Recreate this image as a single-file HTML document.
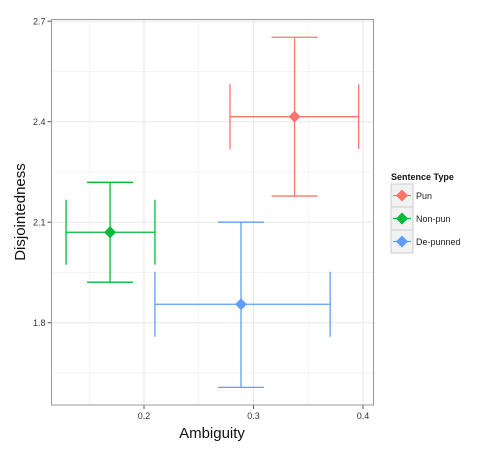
<!DOCTYPE html>
<html><head><meta charset="utf-8"><style>
body{margin:0;background:#fff;width:500px;height:450px;overflow:hidden}
svg text{font-family:"Liberation Sans",sans-serif}
</style></head><body>
<svg id="chart" width="500" height="450" xmlns="http://www.w3.org/2000/svg"></svg>
<script>
const categories = ["Pun","Non-pun","De-punned"];
const colors = ["#F8766D","#00BA38","#619CFF"];
const xMean = [0.3375, 0.169, 0.2886];
const xLow = [0.2785, 0.1288, 0.210];
const xHigh = [0.3960, 0.210, 0.370];
const yMean = [2.415, 2.070, 1.855];
const yLow = [2.178, 1.921, 1.607];
const yHigh = [2.652, 2.219, 2.100];
const xTicks = [0.2, 0.3, 0.4];
const xMinor = [0.15, 0.25, 0.35];
const yTicks = [1.8, 2.1, 2.4, 2.7];
const yMinor = [1.65, 1.95, 2.25, 2.55];

const L=51.5, R=373.5, T=19.5, B=405;
const sx = v => 144 + (v-0.2)*1095;
const sy = v => 121.7 - (v-2.4)*335;
const svg = document.getElementById('chart');
const NS="http://www.w3.org/2000/svg";
function mk(tag, attrs, parent){const e=document.createElementNS(NS,tag);for(const k in attrs)e.setAttribute(k,attrs[k]);(parent||svg).appendChild(e);return e;}

// grid
xMinor.forEach(v=>{const l=mk('line',{x1:sx(v),x2:sx(v),y1:T,y2:B,stroke:'#f2f2f2','stroke-width':0.8});

});
yMinor.forEach(v=>{const l=mk('line',{x1:L,x2:R,y1:sy(v),y2:sy(v),stroke:'#f2f2f2','stroke-width':0.8});

});
xTicks.forEach(v=>{const l=mk('line',{x1:sx(v),x2:sx(v),y1:T,y2:B,stroke:'#e8e8e8','stroke-width':1});


const t=mk('line',{x1:sx(v),x2:sx(v),y1:B,y2:B+4,stroke:'#555','stroke-width':1});


const tx=mk('text',{x:sx(v),y:B+14,'font-size':9,'text-anchor':'middle',fill:'#333'});tx.textContent=v.toFixed(1);

});
yTicks.forEach(v=>{const l=mk('line',{x1:L,x2:R,y1:sy(v),y2:sy(v),stroke:'#e8e8e8','stroke-width':1});


const t=mk('line',{x1:L-4,x2:L,y1:sy(v),y2:sy(v),stroke:'#555','stroke-width':1});


const tx=mk('text',{x:L-6,y:sy(v)+3.5,'font-size':9,'text-anchor':'end',fill:'#333'});tx.textContent=v.toFixed(1);

});
const frame=mk('rect',{x:L,y:T,width:R-L,height:B-T,fill:'none',stroke:'#999','stroke-width':1});



// series
categories.forEach((c,i)=>{
  const g=mk('g',{stroke:colors[i],'stroke-width':1.3,fill:'none'});
  
  
  const cx=sx(xMean[i]), cy=sy(yMean[i]);
  mk('line',{x1:cx,x2:cx,y1:sy(yHigh[i]),y2:sy(yLow[i])},g);
  mk('line',{x1:cx-23,x2:cx+23,y1:sy(yHigh[i]),y2:sy(yHigh[i])},g);
  mk('line',{x1:cx-23,x2:cx+23,y1:sy(yLow[i]),y2:sy(yLow[i])},g);
  mk('line',{x1:sx(xLow[i]),x2:sx(xHigh[i]),y1:cy,y2:cy},g);
  mk('line',{x1:sx(xLow[i]),x2:sx(xLow[i]),y1:cy-32.5,y2:cy+32.5},g);
  mk('line',{x1:sx(xHigh[i]),x2:sx(xHigh[i]),y1:cy-32.5,y2:cy+32.5},g);
  const p=mk('polygon',{points:`${cx},${cy-6} ${cx+6},${cy} ${cx},${cy+6} ${cx-6},${cy}`,fill:colors[i],stroke:'none'});
  
  
  // legend
  const ky=184+i*23;
  const kb=mk('rect',{x:391,y:ky,width:22,height:23,fill:'#f2f2f2',stroke:'#ccc','stroke-width':1});
  
  
  mk('line',{x1:393,x2:411,y1:ky+11.5,y2:ky+11.5,stroke:colors[i],'stroke-width':1.2});
  mk('polygon',{points:`402,${ky+5.5} 408,${ky+11.5} 402,${ky+17.5} 396,${ky+11.5}`,fill:colors[i]});
  const lt=mk('text',{x:416,y:ky+15,'font-size':9,fill:'#222'});lt.textContent=c;
  
  
});
const lt=mk('text',{x:391,y:180,'font-size':9,'font-weight':'bold',fill:'#111'});lt.textContent='Sentence Type';


const xt=mk('text',{x:212,y:438,'font-size':15,'text-anchor':'middle',fill:'#111'});xt.textContent='Ambiguity';


const yt=mk('text',{x:0,y:0,'font-size':15,'text-anchor':'middle',fill:'#111',transform:'translate(25,212) rotate(-90)'});yt.textContent='Disjointedness';


</script>
</body></html>
